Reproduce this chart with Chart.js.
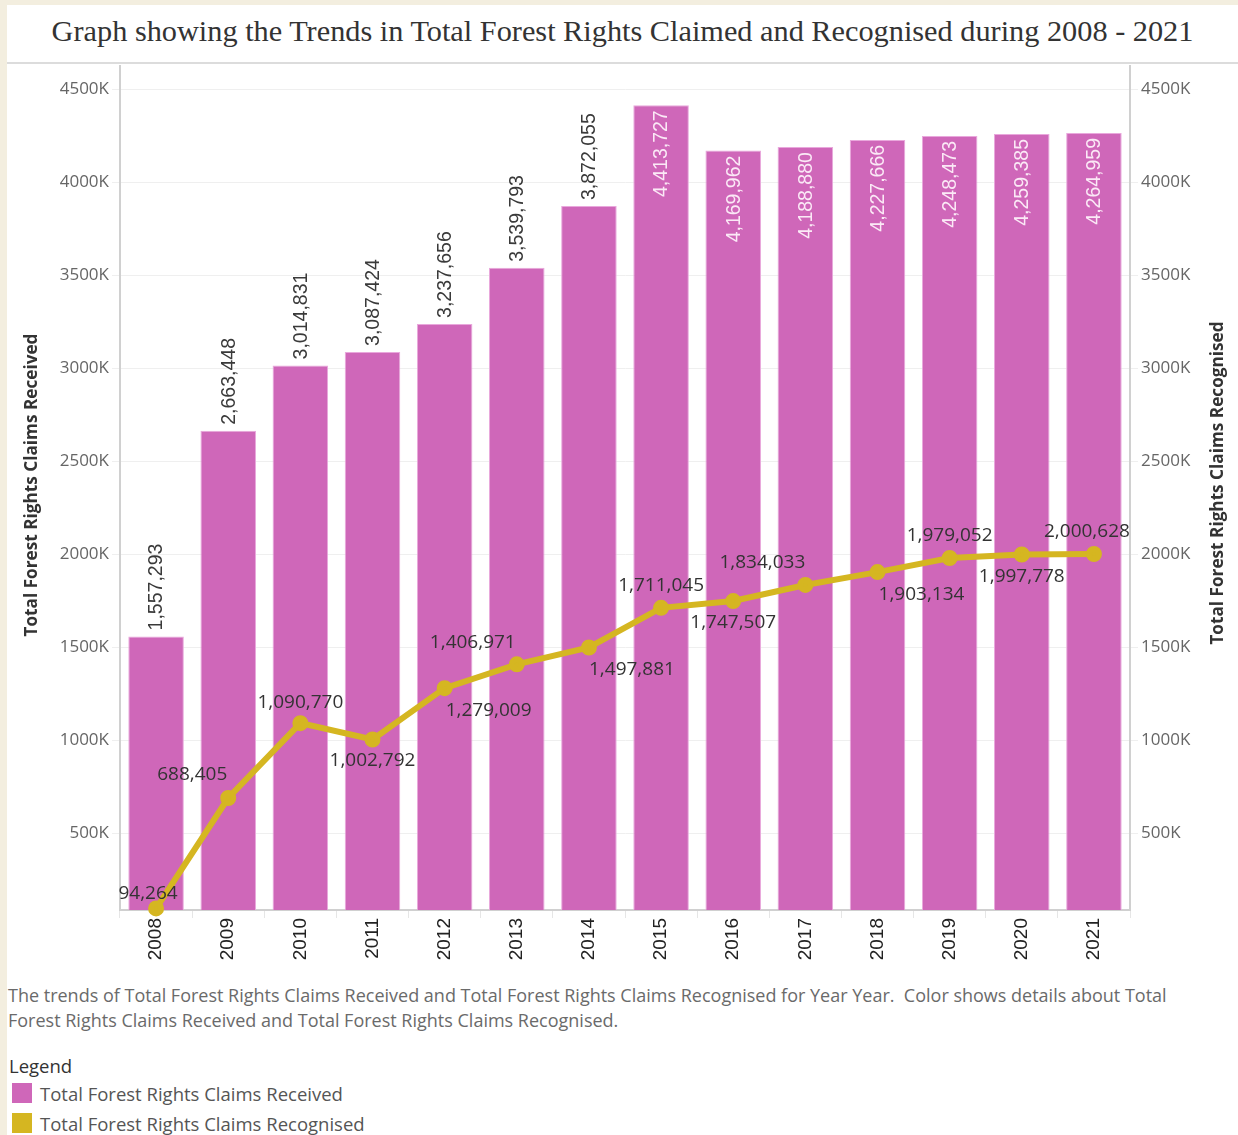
<!DOCTYPE html>
<html>
<head>
<meta charset="utf-8">
<script src="https://cdn.jsdelivr.net/npm/chart.js@4"></script>
<style>
  html, body { margin: 0; padding: 0; }
  body { width: 1238px; height: 1135px; background: #f3eedf; position: relative; overflow: hidden; }
  #panel { position: absolute; left: 7px; top: 5px; width: 1231px; height: 1130px; background: #fff; }
  #title { position: absolute; left: 0; top: 9px; width: 1231px; text-align: center;
           font-family: "Liberation Serif", serif; font-size: 30.3px; color: #333; }
  #sep { position: absolute; left: 0; top: 57px; width: 1231px; height: 2px; background: #dcdcdc; }
  #wrap { position: absolute; left: 0; top: 50px; width: 1231px; height: 917px; }
  #caption { position: absolute; left: 1px; top: 978px; width: 1195px; font-family: "Open Sans", sans-serif;
             font-size: 18px; line-height: 25px; color: #6a6a6a; }
  #legend { position: absolute; left: 2px; top: 1049px; font-family: "Open Sans", sans-serif; font-size: 18.5px; color: #555; }
  #legend .hd { color: #333; line-height: 24px; }
  #legend .it { display: flex; align-items: center; height: 30px; }
  #legend .sw { width: 20px; height: 20px; margin: 0 8px 0 3px; }
</style>
</head>
<body>
<div id="panel">
  <div id="title">Graph showing the Trends in Total Forest Rights Claimed and Recognised during 2008 - 2021</div>
  <div id="sep"></div>
  <div id="wrap"><canvas id="chart" width="1231" height="917"></canvas></div>
  <div id="caption">The trends of Total Forest Rights Claims Received and Total Forest Rights Claims Recognised for Year Year.&nbsp; Color shows details about Total Forest Rights Claims Received and Total Forest Rights Claims Recognised.</div>
  <div id="legend">
    <div class="hd">Legend</div>
    <div class="it"><span class="sw" style="background:#cf67b9"></span>Total Forest Rights Claims Received</div>
    <div class="it"><span class="sw" style="background:#d5b621"></span>Total Forest Rights Claims Recognised</div>
  </div>
</div>
<script>
// datos
const years = ['2008', '2009', '2010', '2011', '2012', '2013', '2014', '2015', '2016', '2017', '2018', '2019', '2020', '2021'];
const claimsReceived = [1557293, 2663448, 3014831, 3087424, 3237656, 3539793, 3872055, 4413727, 4169962, 4188880, 4227666, 4248473, 4259385, 4264959];
const claimsRecognised = [94264, 688405, 1090770, 1002792, 1279009, 1406971, 1497881, 1711045, 1747507, 1834033, 1903134, 1979052, 1997778, 2000628];
const tickValues = [500000, 1000000, 1500000, 2000000, 2500000, 3000000, 3500000, 4000000, 4500000];

const barColor = '#cf67b9';
const lineColor = '#d5b621';
const tickColor = '#666';
const gridColor = '#efefef';

// desplazamiento de etiquetas de la línea (estilo Tableau, evita solapes)
const lineLabelOffsets = [
  [-8, -15], [-36, -23], [0, -21], [0, 21], [44, 22], [-44, -22], [43, 22],
  [0, -22], [0, 22], [-43, -22], [44, 22], [0, -22], [0, 22], [-7, -22]
];

const fmt = v => v.toLocaleString('en-US');

const labelsPlugin = {
  id: 'labels',
  afterDatasetsDraw(chart) {
    const ctx = chart.ctx;
    // etiquetas de las barras (verticales)
    const bars = chart.getDatasetMeta(1).data;
    ctx.save();
    ctx.font = '19.5px "Liberation Sans", Arial, sans-serif';
    bars.forEach((bar, i) => {
      const txt = fmt(claimsReceived[i]);
      const inside = claimsReceived[i] > 4000000;
      ctx.save();
      ctx.translate(bar.x, bar.y);
      ctx.rotate(-Math.PI / 2);
      ctx.textBaseline = 'middle';
      if (inside) {
        ctx.fillStyle = '#fbe9f6';
        ctx.textAlign = 'right';
        ctx.fillText(txt, -5, 1);
      } else {
        ctx.fillStyle = '#3a3a3a';
        ctx.textAlign = 'left';
        ctx.fillText(txt, 6, 1);
      }
      ctx.restore();
    });
    // etiquetas de la línea
    const pts = chart.getDatasetMeta(0).data;
    ctx.font = '19px "Open Sans", sans-serif';
    ctx.fillStyle = '#333';
    ctx.textAlign = 'center';
    ctx.textBaseline = 'middle';
    pts.forEach((p, i) => {
      const o = lineLabelOffsets[i];
      ctx.fillText(fmt(claimsRecognised[i]), p.x + o[0], p.y + o[1]);
    });
    ctx.restore();
  }
};

const axisTitles = {
  id: 'axisTitles',
  afterDraw(chart) {
    const ctx = chart.ctx;
    const midY = 430;
    ctx.save();
    ctx.font = 'bold 17.2px "Open Sans", sans-serif';
    ctx.fillStyle = '#333';
    ctx.textAlign = 'center';
    ctx.textBaseline = 'middle';
    ctx.translate(25, midY);
    ctx.rotate(-Math.PI / 2);
    ctx.fillText('Total Forest Rights Claims Received', 0, 0);
    ctx.restore();
    ctx.save();
    ctx.font = 'bold 17.2px "Open Sans", sans-serif';
    ctx.fillStyle = '#333';
    ctx.textAlign = 'center';
    ctx.textBaseline = 'middle';
    ctx.translate(chart.width - 20, midY - 2);
    ctx.rotate(-Math.PI / 2);
    ctx.fillText('Total Forest Rights Claims Recognised', 0, 0);
    ctx.restore();
  }
};

const yMin = 86000;
const yMax = 4625000;

const yTicks = {
  color: tickColor,
  font: { family: 'Open Sans', size: 17 },
  callback: v => (v / 1000) + 'K'
};

new Chart(document.getElementById('chart'), {
  data: {
    labels: years,
    datasets: [
      {
        type: 'line',
        label: 'Total Forest Rights Claims Recognised',
        data: claimsRecognised,
        yAxisID: 'y1',
        borderColor: lineColor,
        backgroundColor: lineColor,
        borderWidth: 6,
        pointRadius: 5,
        pointHoverRadius: 5,
        tension: 0,
        clip: false,
        order: 0
      },
      {
        type: 'bar',
        label: 'Total Forest Rights Claims Received',
        data: claimsReceived,
        yAxisID: 'y',
        backgroundColor: barColor,
        borderColor: '#e9a8dc',
        borderWidth: 1,
        barPercentage: 0.77,
        categoryPercentage: 1,
        order: 1
      }
    ]
  },
  options: {
    responsive: false,
    animation: false,
    layout: { padding: { top: 5, left: 0, right: 0, bottom: 0 } },
    plugins: { legend: { display: false }, tooltip: { enabled: false } },
    scales: {
      x: {
        grid: { display: true, drawOnChartArea: false, offset: true, tickLength: 8, color: '#e6e6e6' },
        border: { color: '#d0d0d0', width: 2 },
        ticks: { color: '#222', font: { family: 'Liberation Sans', size: 19 }, minRotation: 90, maxRotation: 90, padding: 0 },
        afterFit: s => { s.height = 62; }
      },
      y: {
        position: 'left',
        min: yMin,
        max: yMax,
        afterBuildTicks: s => { s.ticks = tickValues.map(v => ({ value: v })); },
        grid: { color: gridColor, tickLength: 8, tickColor: gridColor },
        border: { color: '#d0d0d0', width: 2 },
        ticks: Object.assign({ padding: 3 }, yTicks),
        afterFit: s => { s.width = 113; s.paddingTop = 0; s.paddingBottom = 0; }
      },
      y1: {
        position: 'right',
        min: yMin,
        max: yMax,
        afterBuildTicks: s => { s.ticks = tickValues.map(v => ({ value: v })); },
        grid: { drawOnChartArea: false, tickLength: 8, color: gridColor },
        border: { color: '#d0d0d0', width: 2 },
        ticks: Object.assign({ padding: 3 }, yTicks),
        afterFit: s => { s.width = 108; s.paddingTop = 0; s.paddingBottom = 0; }
      }
    }
  },
  plugins: [labelsPlugin, axisTitles]
});
</script>
</body>
</html>
